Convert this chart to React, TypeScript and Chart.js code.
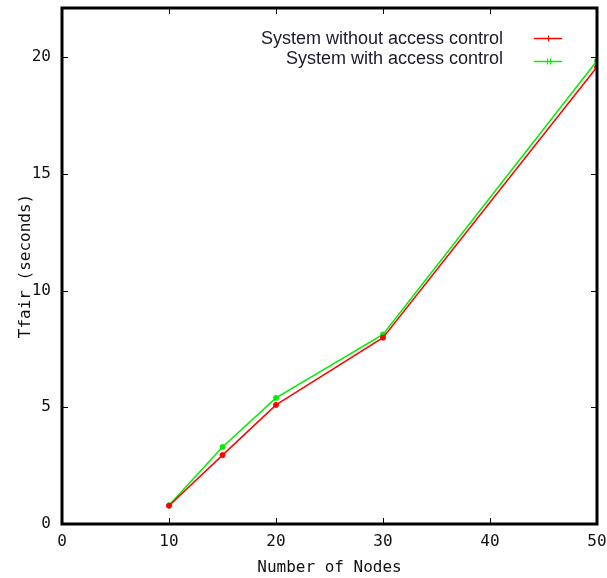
import React, { useEffect, useRef } from "react";
import { Chart, registerables } from "chart.js";

Chart.register(...registerables);

const nodes = [10, 15, 20, 30, 50];
const withoutAccess = [0.78, 2.95, 5.1, 7.98, 19.57];
const withAccess = [0.8, 3.3, 5.4, 8.12, 19.84];
const xTicks = [0, 10, 20, 30, 40, 50];
const yTicks = [0, 5, 10, 15, 20];

const seriesNames = ["System without access control", "System with access control"];
const xTitle = "Number of Nodes";
const yTitle = "Tfair (seconds)";

const RED = "#ff0000";
const GREEN = "#00ee00";

const frame = {
  id: "frame",
  afterDatasetsDraw(chart: any) {
    const { ctx, chartArea: a, scales } = chart;
    const xs = scales.x, ys = scales.y;
    ctx.save();
    ctx.strokeStyle = "#000";
    ctx.lineWidth = 1;
    for (const v of xTicks) {
      const px = Math.round(xs.getPixelForValue(v)) + 0.5;
      ctx.beginPath();
      ctx.moveTo(px, a.bottom);
      ctx.lineTo(px, a.bottom - 6);
      ctx.moveTo(px, a.top);
      ctx.lineTo(px, a.top + 6);
      ctx.stroke();
    }
    for (const v of yTicks) {
      const py = Math.round(ys.getPixelForValue(v)) + 0.5;
      ctx.beginPath();
      ctx.moveTo(a.left, py);
      ctx.lineTo(a.left + 6, py);
      ctx.moveTo(a.right, py);
      ctx.lineTo(a.right - 6, py);
      ctx.stroke();
    }
    ctx.lineWidth = 3;
    ctx.strokeRect(a.left, a.top, a.right - a.left, a.bottom - a.top);

    ctx.font = "18px 'Liberation Sans', Arial, sans-serif";
    ctx.textAlign = "right";
    ctx.textBaseline = "middle";
    const colors = [RED, GREEN];
    const rows = [39, 59];
    const lineRows = [38, 61];
    seriesNames.forEach((name, i) => {
      ctx.fillStyle = "#1a1a2a";
      ctx.fillText(name, 503, rows[i]);
      const ly = lineRows[i] + 0.5;
      ctx.strokeStyle = colors[i];
      ctx.lineWidth = 1.5;
      ctx.beginPath();
      ctx.moveTo(534, ly);
      ctx.lineTo(562, ly);
      ctx.stroke();
      ctx.lineWidth = 1;
      ctx.beginPath();
      if (i === 0) {
        ctx.moveTo(548.5, ly - 3);
        ctx.lineTo(548.5, ly + 3);
      } else {
        ctx.moveTo(547.5, ly - 3);
        ctx.lineTo(547.5, ly + 3);
        ctx.moveTo(550.5, ly - 3);
        ctx.lineTo(550.5, ly + 3);
      }
      ctx.stroke();
    });
    ctx.restore();
  },
};

const mono = { family: "'DejaVu Sans Mono', monospace", size: 16 };

export default function App() {
  const ref = useRef<HTMLCanvasElement>(null);
  useEffect(() => {
    const chart = new Chart(ref.current!, {
      type: "line",
      data: {
        datasets: [
          {
            label: seriesNames[0],
            data: nodes.map((x, i) => ({ x, y: withoutAccess[i] })),
            borderColor: RED,
            backgroundColor: RED,
            borderWidth: 1.5,
            pointStyle: "circle",
            pointRadius: 2.5,
            pointBorderWidth: 1,
          },
          {
            label: seriesNames[1],
            data: nodes.map((x, i) => ({ x, y: withAccess[i] })),
            borderColor: GREEN,
            backgroundColor: GREEN,
            borderWidth: 1.5,
            pointStyle: "circle",
            pointRadius: 2.5,
            pointBorderWidth: 1,
          },
        ],
      },
      options: {
        animation: false,
        responsive: false,
        layout: { padding: { top: 8, right: 10, left: 0, bottom: 0 } },
        plugins: { legend: { display: false }, tooltip: { enabled: false } },
        scales: {
          x: {
            type: "linear",
            min: 0,
            max: 50,
            afterBuildTicks: (s: any) => {
              s.ticks = xTicks.map((v) => ({ value: v }));
            },
            afterFit: (s: any) => {
              s.height = 54;
              s.paddingRight = 0;
              s.paddingLeft = 0;
            },
            grid: { display: false, drawTicks: false },
            border: { display: false },
            ticks: { color: "#111", padding: 8, font: mono },
            title: {
              display: true,
              text: xTitle,
              color: "#111",
              padding: { top: 0, bottom: 1 },
              font: mono,
            },
          },
          y: {
            type: "linear",
            min: 0,
            max: 22.1,
            afterBuildTicks: (s: any) => {
              s.ticks = yTicks.map((v) => ({ value: v }));
            },
            afterFit: (s: any) => {
              s.width = 62;
              s.paddingTop = 0;
              s.paddingBottom = 0;
            },
            grid: { display: false, drawTicks: false },
            border: { display: false },
            ticks: { color: "#111", padding: 11, font: mono },
            title: {
              display: true,
              text: yTitle,
              color: "#111",
              padding: { top: 16, bottom: 0 },
              font: mono,
            },
          },
        },
      },
      plugins: [frame],
    });
    return () => chart.destroy();
  }, []);
  return (
    <div style={{ position: "fixed", left: 0, top: 0, width: 607, height: 578, background: "#fff" }}>
      <canvas ref={ref} width={607} height={578} style={{ width: 607, height: 578 }} />
    </div>
  );
}
